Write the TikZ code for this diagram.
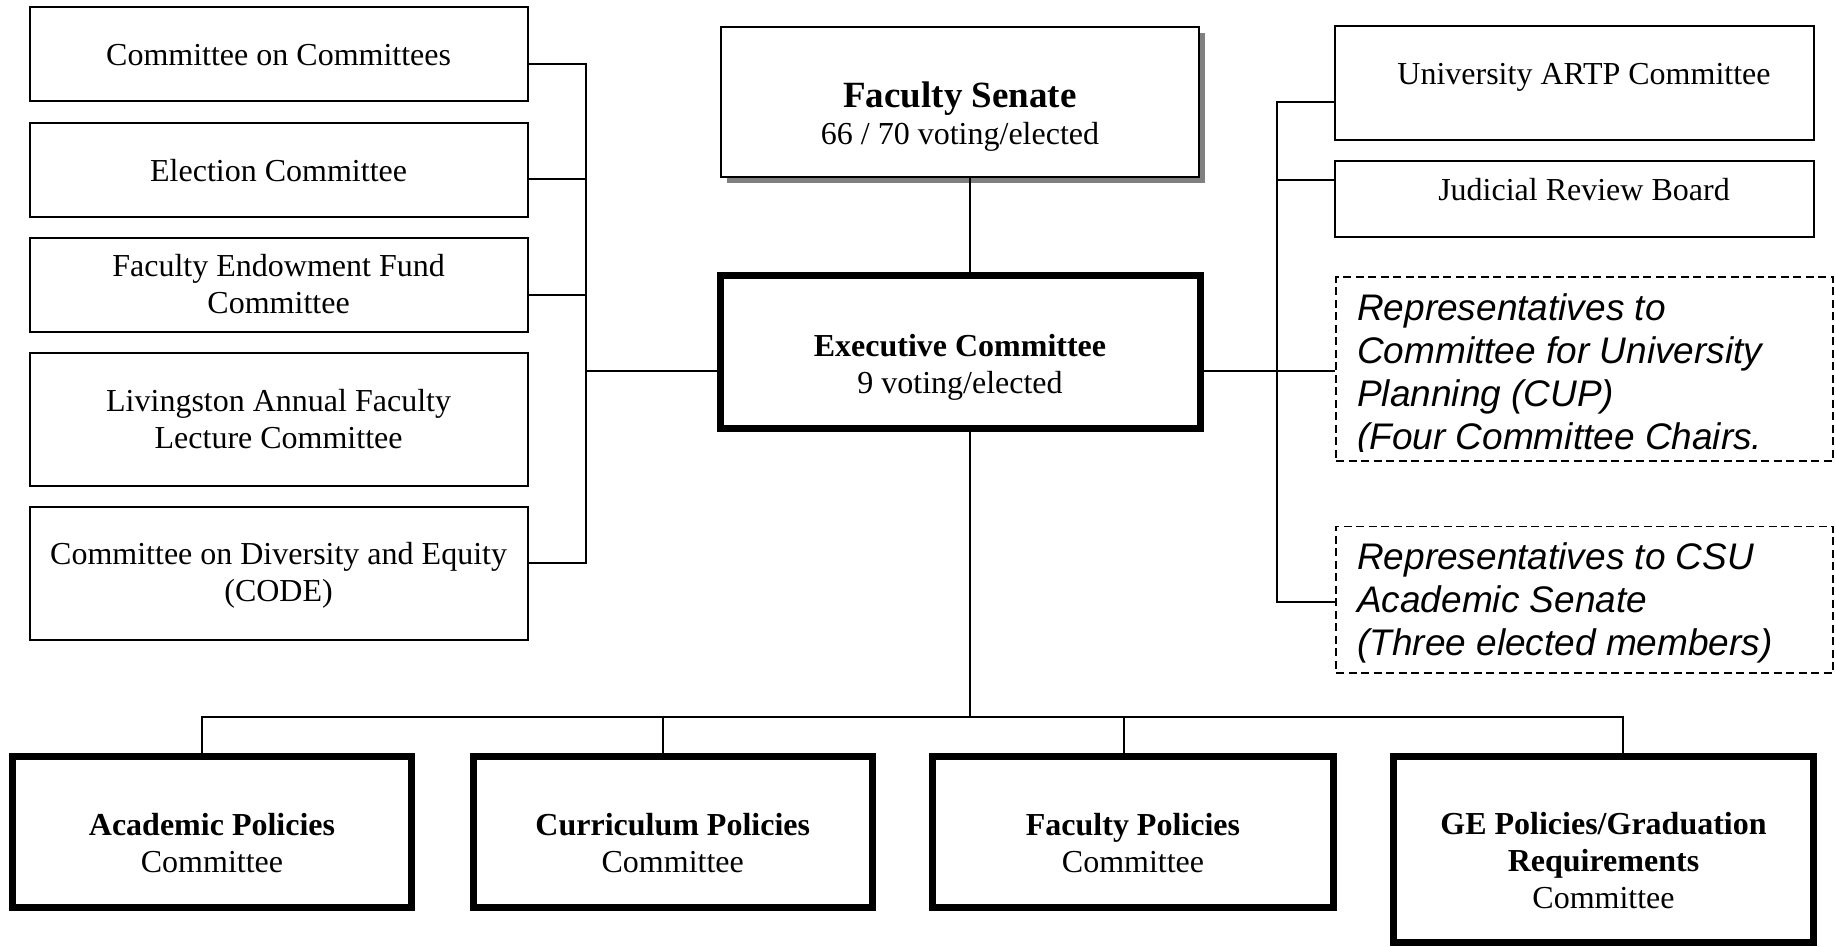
\documentclass[tikz,border=0pt]{standalone}
\usepackage{fontspec}
\setmainfont{Liberation Serif}
\setsansfont{Liberation Sans}
\usetikzlibrary{shadows}
\newcommand\ctext[1]{\parbox[t]{490pt}{\centering #1}}
\newcommand\ltext[1]{\parbox[t]{470pt}{\raggedright\sffamily\itshape\fontsize{37}{43}\selectfont #1}}
\begin{document}
\begin{tikzpicture}[x=1pt,y=-1pt,
  font=\fontsize{32}{37}\selectfont,
  thinbox/.style={draw=black, line width=2pt, fill=white, inner sep=0pt},
  thickbox/.style={draw=black, line width=7pt, fill=white, inner sep=0pt},
  dashbox/.style={draw=black, line width=1.8pt, dash pattern=on 8pt off 4.5pt, fill=white, inner sep=0pt},
  conn/.style={draw=black, line width=2pt},
  txt/.style={anchor=base, inner sep=0pt},
  ltxt/.style={anchor=base west, inner sep=0pt}]
\useasboundingbox (0,0) rectangle (1836,947);
\fill[white] (0,0) rectangle (1836,947);

% left column
\node[thinbox, minimum width=498pt, minimum height=94pt] (b1) at (278.6,54) {};
\node[thinbox, minimum width=498pt, minimum height=94pt] (b2) at (278.6,170) {};
\node[thinbox, minimum width=498pt, minimum height=94pt] (b3) at (278.6,285) {};
\node[thinbox, minimum width=498pt, minimum height=133pt] (b4) at (278.6,419.5) {};
\node[thinbox, minimum width=498pt, minimum height=133pt] (b5) at (278.6,573.5) {};
\node[txt] (t1) at (278.6,66) {\ctext{Committee on Committees}};
\node[txt] (t2) at (278.6,181) {\ctext{Election Committee}};
\node[txt] (t3) at (278.6,276) {\ctext{Faculty Endowment Fund\\Committee}};
\node[txt] (t4) at (278.6,411) {\ctext{Livingston Annual Faculty\\Lecture Committee}};
\node[txt] (t5) at (278.6,564) {\ctext{Committee on Diversity and Equity\\(CODE)}};

% centre column
\node[thinbox, minimum width=478pt, minimum height=150pt,
  drop shadow={shadow xshift=6pt, shadow yshift=-6pt, fill=black!50, opacity=1}] (fs) at (960,102) {};
\node[txt] (fst) at (960,108) {\ctext{{\fontsize{37}{37}\selectfont\bfseries Faculty Senate}\\66 / 70 voting/elected}};
\node[thickbox, minimum width=480pt, minimum height=153pt] (exec) at (960,352) {};
\node[txt] (exect) at (960,356) {\ctext{\textbf{Executive Committee}\\9 voting/elected}};

% right column
\node[thinbox, minimum width=479pt, minimum height=114pt] (artp) at (1574.5,83) {};
\node[txt] (artpt) at (1584,85) {\ctext{University ARTP Committee}};
\node[thinbox, minimum width=479pt, minimum height=76pt] (jrb) at (1574.5,199) {};
\node[txt] (jrbt) at (1584,200) {\ctext{Judicial Review Board}};
\node[dashbox, minimum width=497pt, minimum height=183.5pt] (cup) at (1584.5,369) {};
\begin{scope}
\clip (1337,280) rectangle (1832,451.5);
\node[ltxt] (cupt) at (1357,320) {\ltext{Representatives to\\Committee for University\\Planning (CUP)\\(Four Committee Chairs.}};
\end{scope}
\node[dashbox, minimum width=497pt, minimum height=146.6pt] (csu) at (1584.5,599.7) {};
\node[ltxt] (csut) at (1357,569) {\ltext{Representatives to CSU\\Academic Senate\\(Three elected members)}};

% bottom row
\node[thickbox, minimum width=399pt, minimum height=151pt] (p1) at (212,832) {};
\node[thickbox, minimum width=399.5pt, minimum height=151pt] (p2) at (672.75,832) {};
\node[thickbox, minimum width=401pt, minimum height=151pt] (p3) at (1133,832) {};
\node[thickbox, minimum width=420pt, minimum height=186pt] (p4) at (1603.5,849.5) {};
\node[txt] (p1t) at (212,835) {\ctext{\textbf{Academic Policies}\\Committee}};
\node[txt] (p2t) at (672.75,835) {\ctext{\textbf{Curriculum Policies}\\Committee}};
\node[txt] (p3t) at (1133,835) {\ctext{\textbf{Faculty Policies}\\Committee}};
\node[txt] (p4t) at (1603.5,834) {\ctext{\textbf{GE Policies/Graduation}\\\textbf{Requirements}\\Committee}};

% left connectors
\coordinate (lbus) at (586,371);
\coordinate (l1) at ([yshift=-10pt]b1.east);
\coordinate (l2) at ([yshift=-9pt]b2.east);
\coordinate (l3) at ([yshift=-10pt]b3.east);
\coordinate (l5) at ([yshift=10.5pt]b5.east);
\coordinate (le) at ([yshift=-19pt]exec.west);
\draw[conn] (l1) -| (lbus |- l5) -- (l5);
\draw[conn] (l2) -- (l2 -| lbus);
\draw[conn] (l3) -- (l3 -| lbus);
\draw[conn] (le -| lbus) -- (le);

% right connectors
\coordinate (rbus) at (1277,0);
\coordinate (r1) at ([yshift=-19pt]artp.west);
\coordinate (r2) at ([yshift=19pt]jrb.west);
\coordinate (r4) at ([yshift=-2pt]csu.west);
\coordinate (r3) at ([yshift=-2pt]cup.west);
\draw[conn] (r1) -| (rbus |- r4) -- (r4);
\draw[conn] (r2) -- (r2 -| rbus);
\draw[conn] (exec.east |- r3) -- (r3);

% vertical spine
\coordinate (fsb) at ([xshift=10pt]fs.south);
\coordinate (en) at ([xshift=10pt]exec.north);
\coordinate (es) at ([xshift=10pt]exec.south);
\coordinate (bb) at (0,717);
\draw[conn] (fsb) -- (en);
\draw[conn] (es) -- (es |- bb);

% bottom bus
\coordinate (d1) at ([xshift=-10pt]p1.north);
\coordinate (d2) at ([xshift=-9.75pt]p2.north);
\coordinate (d3) at ([xshift=-9pt]p3.north);
\coordinate (d4) at ([xshift=19.5pt]p4.north);
\draw[conn] (d1) -- (d1 |- bb) -- (d4 |- bb) -- (d4);
\draw[conn] (d2) -- (d2 |- bb);
\draw[conn] (d3) -- (d3 |- bb);
\end{tikzpicture}
\end{document}
